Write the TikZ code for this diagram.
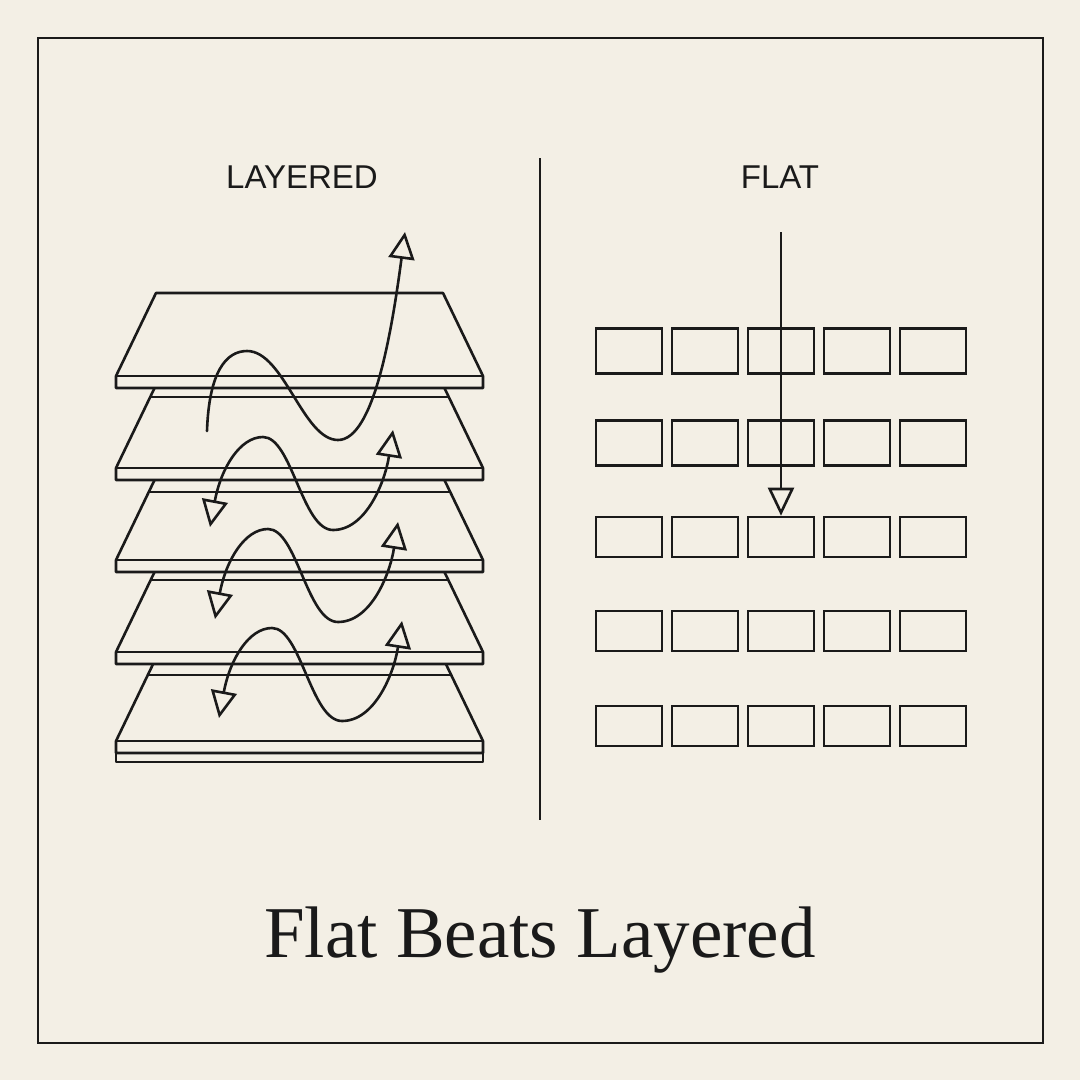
\documentclass[tikz,border=0pt]{standalone}
\usepackage{fontspec}
\setmainfont{Liberation Serif}
\newfontfamily\labelfont{Liberation Sans}
\usetikzlibrary{arrows.meta}
\definecolor{bg}{HTML}{F3EFE5}
\definecolor{ink}{HTML}{1A1A1A}
\begin{document}
\begin{tikzpicture}[x=1pt,y=-1pt,
  ln/.style={draw=ink,line width=2.6pt,line join=round},
  plate/.style={ln,fill=bg},
  cell/.style={draw=ink,line width=2.6pt,minimum width=66pt,inner sep=0pt},
  wave/.style={ln,line cap=round},
  colhead/.style={font=\labelfont\fontsize{33}{36}\selectfont,text=ink,inner sep=0pt},
  bigtitle/.style={font=\fontsize{73}{80}\selectfont,text=ink,inner sep=0pt}]
\fill[bg] (0,0) rectangle (1080,1080);
\useasboundingbox (0,0) rectangle (1080,1080);
\draw[ink,line width=2pt] (38,38) rectangle (1043,1043);

% headings
\node[colhead] (hl) at (302,177) {LAYERED};
\node[colhead] (hf) at (780,177) {FLAT};

% divider
\draw[ln] (540,158) -- (540,820);

% plates, bottom first
\draw[plate] (116,741) rectangle (483,762);
\draw[ln] (116,752) -- (483,752);
\foreach \F/\R in {741/675,652/580,560/492,468/397,376/0}{
  \draw[plate] (156,\F-83) -- (443,\F-83) -- (483,\F) -- (483,\F+12) -- (116,\F+12) -- (116,\F) -- cycle;
  \draw[ln] (116,\F) -- (483,\F);
  \ifnum\R>0
    \draw[ln] ({116+40*(\F-\R)/83},\R) -- ({483-40*(\F-\R)/83},\R);
  \fi
}

% waves
\draw[wave,-{Triangle[length=27pt,width=26pt,fill=bg]}]
  (207,431) .. controls (209,372) and (226,351) .. (247,351)
  .. controls (284,351) and (303,440) .. (338,440)
  .. controls (374,440) and (392,330) .. (405,232);
\foreach \dx/\dy in {0/0,5/92,9/191}{
  \begin{scope}[shift={(\dx,\dy)}]
  \draw[wave,{Triangle[length=27pt,width=26pt,fill=bg]}-{Triangle[length=27pt,width=26pt,fill=bg]}]
    (210,527) .. controls (221,468) and (240,437) .. (263,437)
    .. controls (292,437) and (302,530) .. (333,530)
    .. controls (366,530) and (385,482) .. (393,430);
  \end{scope}
}

% flat grid
\foreach \r/\cy/\h in {1/351/45,2/443/45,3/537/40,4/631/40,5/726/40}{
  \foreach \c in {1,...,5}{
    \node[cell,minimum height=\h pt] (r\r c\c) at ({629+76*(\c-1)},\cy) {};
  }
}
\coordinate (fstart) at (781,232);
\draw[ln,-{Triangle[length=28pt,width=26pt,fill=bg]}] (fstart) -- (r3c3.north);

% title
\node[bigtitle] (title) at (540,940) {Flat Beats Layered};
\end{tikzpicture}
\end{document}
